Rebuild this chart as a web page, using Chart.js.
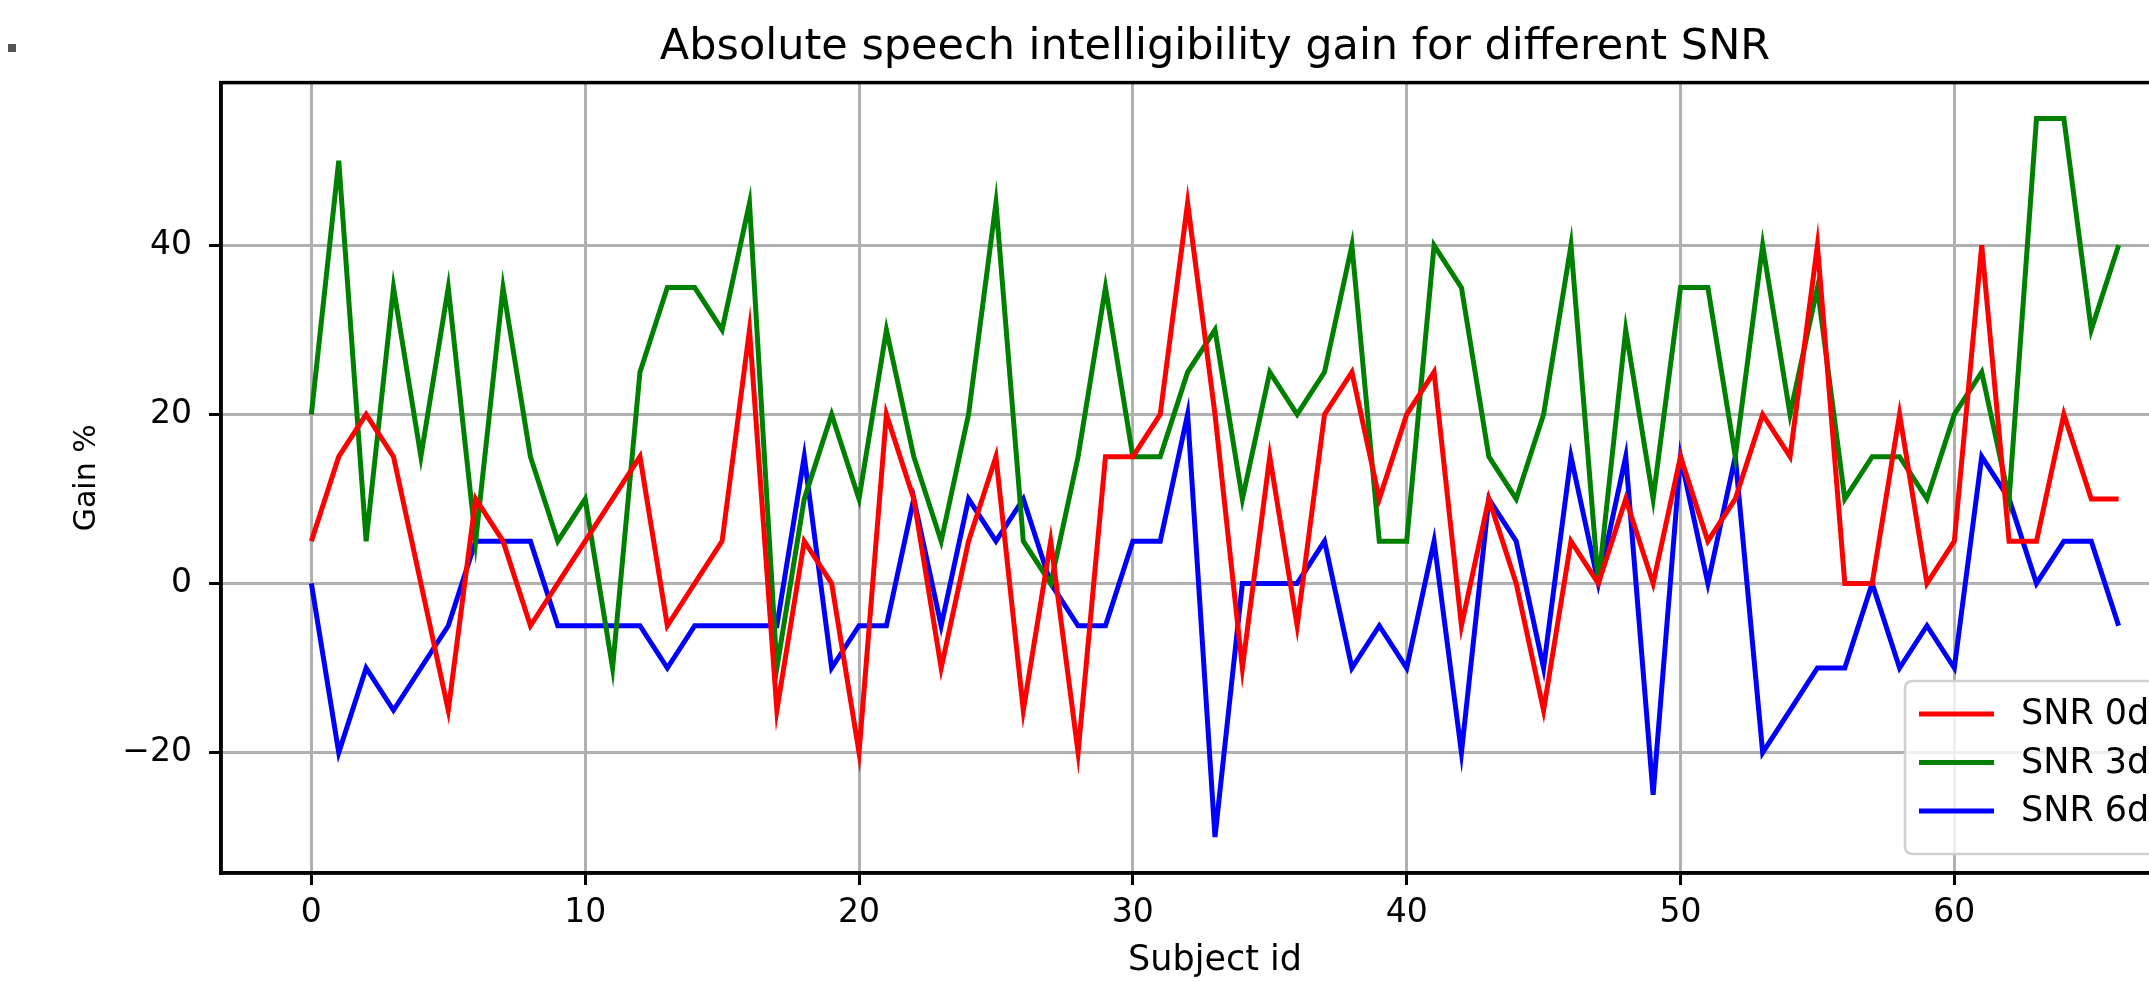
<!DOCTYPE html>
<html><head><meta charset="utf-8">
<script src="https://cdn.jsdelivr.net/npm/chart.js@4.4.0/dist/chart.umd.min.js"></script>
<style>
html,body{margin:0;padding:0;background:#fff;overflow:hidden;width:2149px;height:982px}
#wrap{position:absolute;left:0;top:0;width:2219px;height:982px}
#dot{position:absolute;left:8px;top:44px;width:8px;height:8px;background:#555}
</style></head><body>
<div id="wrap"><canvas id="c" width="2219" height="982"></canvas></div>
<div id="dot"></div>
<script>
// subject ids on x, gain (%) per SNR level
const subjects=[0,1,2,3,4,5,6,7,8,9,10,11,12,13,14,15,16,17,18,19,20,21,22,23,24,25,26,27,28,29,30,31,32,33,34,35,36,37,38,39,40,41,42,43,44,45,46,47,48,49,50,51,52,53,54,55,56,57,58,59,60,61,62,63,64,65,66];
const snr0=[5,15,20,15,0,-15,10,5,-5,0,5,10,15,-5,0,5,30,-15,5,0,-20,20,10,-10,5,15,-15,5,-20,15,15,20,45,20,-10,15,-5,20,25,10,20,25,-5,10,0,-15,5,0,10,0,15,5,10,20,15,40,0,0,20,0,5,40,5,5,20,10,10];
const snr3=[20,50,5,35,15,35,5,35,15,5,10,-10,25,35,35,30,45,-10,10,20,10,30,15,5,20,45,5,0,15,35,15,15,25,30,10,25,20,25,40,5,5,40,35,15,10,20,40,0,30,10,35,35,15,40,20,35,10,15,15,10,20,25,10,55,55,30,40];
const snr6=[0,-20,-10,-15,-10,-5,5,5,5,-5,-5,-5,-5,-10,-5,-5,-5,-5,15,-10,-5,-5,10,-5,10,5,10,0,-5,-5,5,5,20,-30,0,0,0,5,-10,-5,-10,5,-20,10,5,-10,15,0,15,-25,15,0,15,-20,-15,-10,-10,0,-10,-5,-10,15,10,0,5,5,-5];
const seriesNames=['SNR 0dB','SNR 3dB','SNR 6dB'];
const seriesColors=['#ff0000','#008000','#0000ff'];
const xTicks=[0,10,20,30,40,50,60];
const yTicks=[-20,0,20,40];

const FONT='"DejaVu Sans", sans-serif';
Chart.defaults.font.family=FONT;
Chart.defaults.color='#000';

function pts(vals){return subjects.map((s,i)=>({x:s,y:vals[i]}));}

// full frame like matplotlib spines (top/right too)
const framePlugin={id:'frame',afterDatasetsDraw(chart){
  const {ctx,chartArea:a}=chart;
  ctx.save();ctx.strokeStyle='#000';ctx.lineWidth=3.5;
  ctx.strokeRect(a.left,a.top,a.right-a.left,a.bottom-a.top);
  ctx.restore();
}};

// legend box inside the axes, lower right
const legendPlugin={id:'mplLegend',afterDraw(chart){
  const {ctx,chartArea:a}=chart;
  const fs=35,rowH=48.5;
  ctx.save();
  ctx.font=fs+'px '+FONT;
  const ds=chart.data.datasets;
  const tw=Math.max(...ds.map(d=>ctx.measureText(d.label).width));
  const x0=a.right-304,y0=a.bottom-192,w=116+tw+14,h=173,r=8;
  ctx.beginPath();
  ctx.moveTo(x0+r,y0);ctx.lineTo(x0+w-r,y0);ctx.quadraticCurveTo(x0+w,y0,x0+w,y0+r);
  ctx.lineTo(x0+w,y0+h-r);ctx.quadraticCurveTo(x0+w,y0+h,x0+w-r,y0+h);
  ctx.lineTo(x0+r,y0+h);ctx.quadraticCurveTo(x0,y0+h,x0,y0+h-r);
  ctx.lineTo(x0,y0+r);ctx.quadraticCurveTo(x0,y0,x0+r,y0);ctx.closePath();
  ctx.fillStyle='rgba(255,255,255,0.8)';ctx.fill();
  ctx.strokeStyle='#d0d0d0';ctx.lineWidth=2.5;ctx.stroke();
  ds.forEach((d,i)=>{
    const y=y0+33+i*rowH;
    ctx.beginPath();ctx.moveTo(x0+14,y);ctx.lineTo(x0+89,y);
    ctx.strokeStyle=d.borderColor;ctx.lineWidth=5;ctx.stroke();
    ctx.fillStyle='#000';ctx.textBaseline='middle';ctx.textAlign='left';
    ctx.fillText(d.label,x0+116,y+1);
  });
  ctx.restore();
}};

new Chart(document.getElementById('c'),{
  type:'line',
  data:{datasets:[snr0,snr3,snr6].map((v,i)=>({
    label:seriesNames[i],data:pts(v),borderColor:seriesColors[i],backgroundColor:seriesColors[i],
    borderWidth:5,pointRadius:0,tension:0,fill:false
  }))},
  options:{
    responsive:false,animation:false,devicePixelRatio:1,
    layout:{padding:{left:0,right:10,top:0,bottom:0}},
    plugins:{
      legend:{display:false},tooltip:{enabled:false},
      title:{display:true,text:'Absolute speech intelligibility gain for different SNR',
        fullSize:false,color:'#000',font:{size:43,weight:'normal'},padding:{top:22,bottom:9}}
    },
    scales:{
      x:{type:'linear',min:-3.3,max:69.3,
        afterBuildTicks(s){s.ticks=xTicks.map(v=>({value:v}));},
        afterFit(s){s.height=109;},
        grid:{color:'#b0b0b0',lineWidth:3,tickLength:12,tickColor:'#000',tickWidth:3},
        border:{display:true,color:'#000',width:3.5},
        ticks:{font:{size:33},padding:9,maxRotation:0,color:'#000'},
        title:{display:true,text:'Subject id',font:{size:35},padding:{top:0,bottom:0},color:'#000'}
      },
      y:{type:'linear',min:-34.25,max:59.25,
        afterBuildTicks(s){s.ticks=yTicks.map(v=>({value:v}));},
        afterFit(s){s.width=221;},
        grid:{color:'#b0b0b0',lineWidth:3,tickLength:12,tickColor:'#000',tickWidth:3},
        border:{display:true,color:'#000',width:3.5},
        ticks:{font:{size:33},padding:17,color:'#000',callback:v=>v<0?'\u2212'+Math.abs(v):''+v},
        title:{display:true,text:'Gain %',font:{size:30},padding:{top:69,bottom:0},color:'#000'}
      }
    }
  },
  plugins:[framePlugin,legendPlugin]
});
</script>
</body></html>
